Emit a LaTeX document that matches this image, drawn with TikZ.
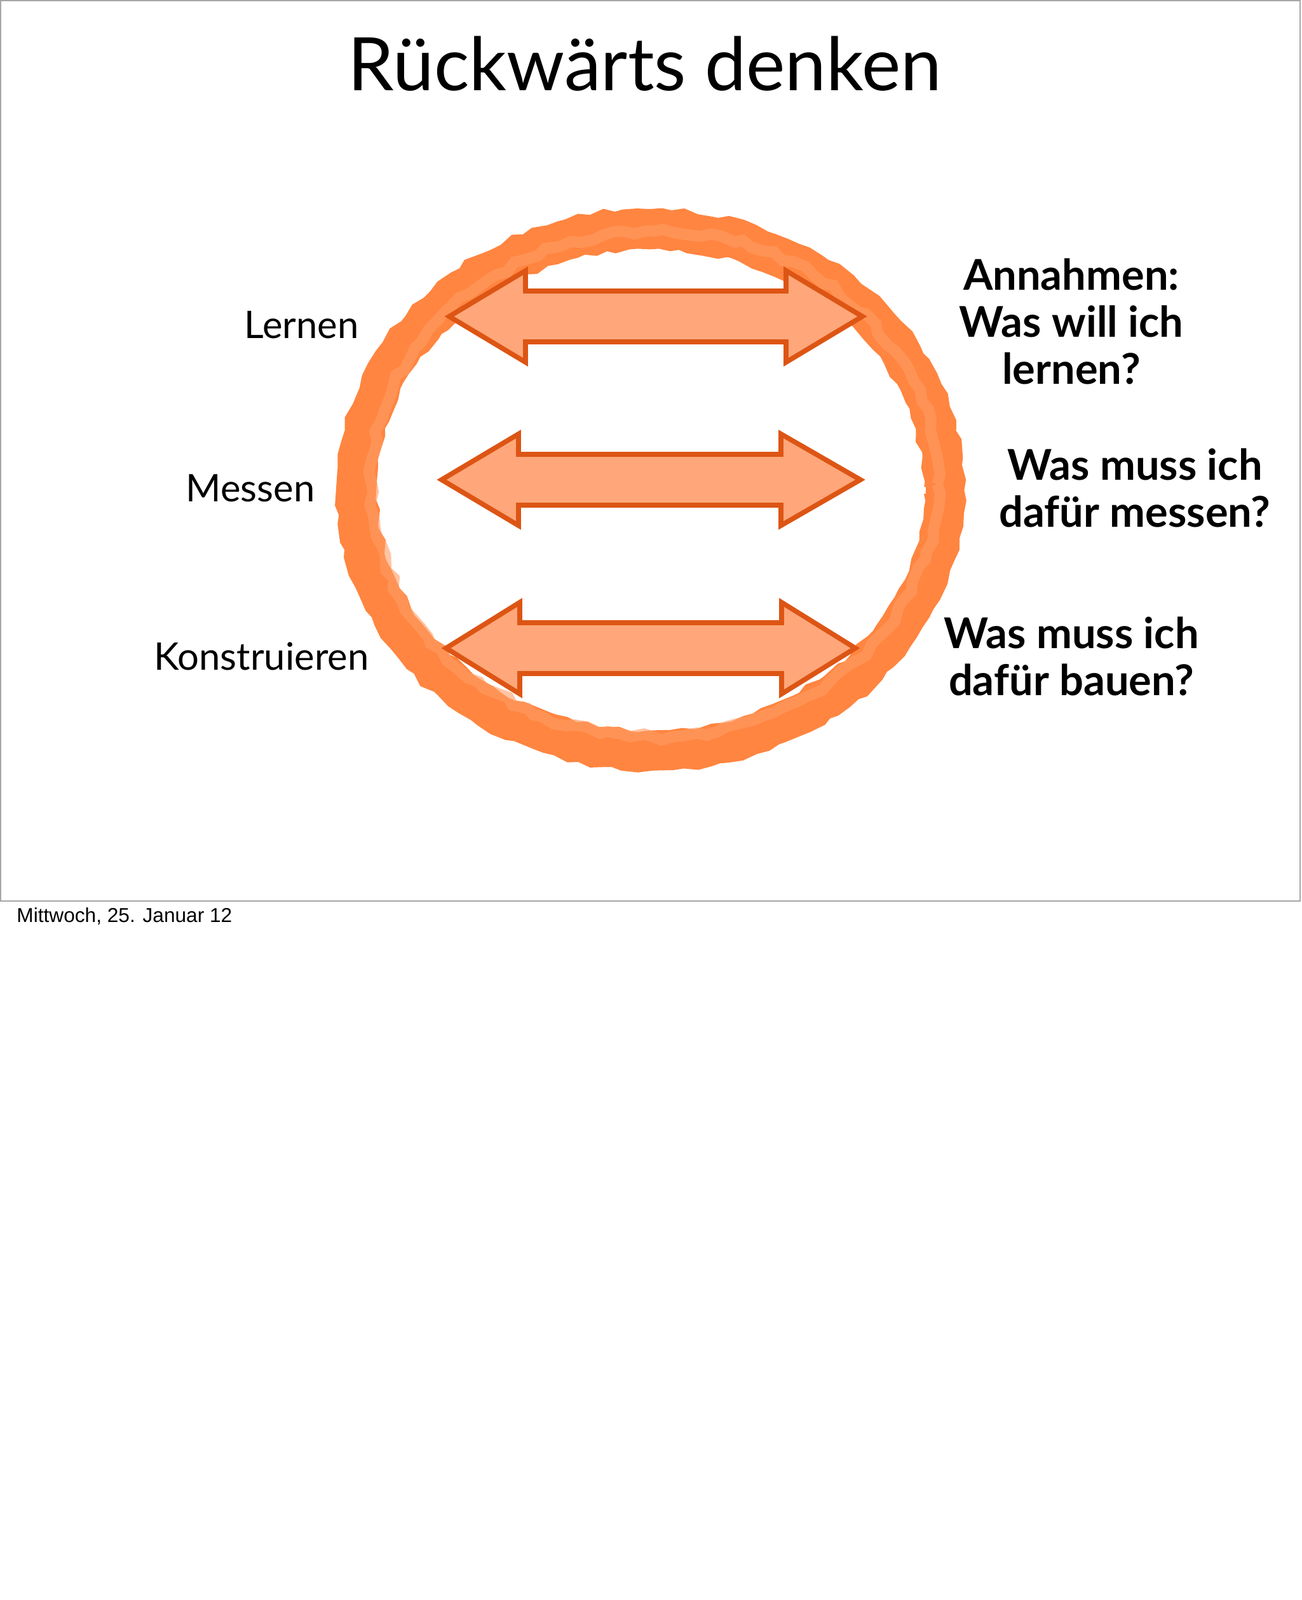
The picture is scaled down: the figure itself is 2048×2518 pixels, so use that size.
\documentclass[tikz,border=0pt]{standalone}
\usepackage{fontspec}
\setmainfont{Lato}
\newfontfamily\footfont{Liberation Sans}
\usetikzlibrary{decorations.pathmorphing}
\definecolor{ring}{HTML}{FF8540}
\definecolor{arfill}{HTML}{FFA77A}
\definecolor{arline}{HTML}{DD5514}
\tikzset{
  lbl/.style={font=\fontsize{17}{20}\selectfont, anchor=east},
  qlbl/.style={font=\fontsize{19}{21}\selectfont\bfseries, align=center},
  dblarrow/.style={fill=arfill, draw=arline, line width=2.2pt, line join=miter},
}
\newcommand{\darrow}[6]{% x1 x2 h1 h2 y name
  \draw[dblarrow] (#1,#5) -- (#3,#5-72) -- (#3,#5-40) -- (#4,#5-40) -- (#4,#5-72) -- (#2,#5) -- (#4,#5+72) -- (#4,#5+40) -- (#3,#5+40) -- (#3,#5+72) -- cycle;
  \coordinate (#6) at ({(#1+#2)/2},#5);}
\begin{document}
\begin{tikzpicture}[x=0.01cm,y=-0.01cm]
\useasboundingbox (0,0) rectangle (2048,2518);
\draw[gray!70, line width=0.6pt] (1,1) rectangle (2046,1418);
\node[font=\fontsize{33}{36}\selectfont] (title) at (1015,100) {Rückwärts denken};
% ring
\draw[ring, line width=16pt] (1023,771) ellipse [x radius=462, y radius=410];
\draw[ring, line width=18pt, decorate, decoration={random steps, segment length=5pt, amplitude=1pt}] (1023,771) ellipse [x radius=462, y radius=410];
\draw[ring!80, line width=5pt, opacity=0.6, decorate, decoration={random steps, segment length=5pt, amplitude=1.5pt}] (1030,762) ellipse [x radius=445, y radius=398];
% arrows
\darrow{707}{1357}{827}{1237}{498}{a1}
\darrow{695}{1354}{816}{1229}{755}{a2}
\darrow{702}{1346}{818}{1230}{1020}{a3}
% labels
\node[lbl] (l1) at (577,511) {Lernen};
\node[lbl] (l2) at (508,768) {Messen};
\node[lbl] (l3) at (593,1033) {Konstruieren};
\node[qlbl] (q1) at (1686,506) {Annahmen:\\Was will ich\\lernen?};
\node[qlbl] (q2) at (1786,768) {Was muss ich\\dafür messen?};
\node[qlbl] (q3) at (1686,1033) {Was muss ich\\dafür bauen?};
\node[font=\footfont\fontsize{9}{10}\selectfont, anchor=west] (foot) at (14,1442) {Mittwoch, 25. Januar 12};
\end{tikzpicture}
\end{document}
